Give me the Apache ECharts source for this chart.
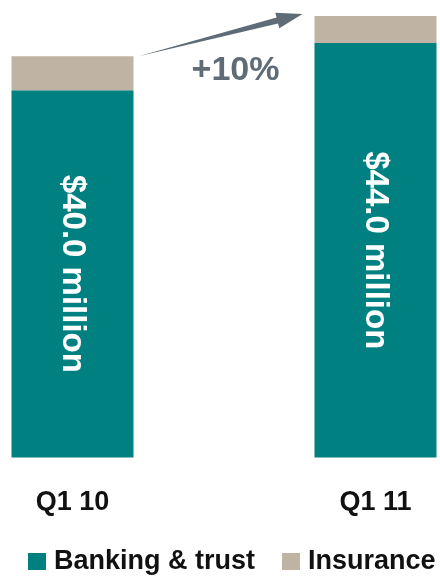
<!DOCTYPE html>
<html>
<head>
<meta charset="utf-8">
<style>
  html, body { margin: 0; padding: 0; background: #ffffff; }
  #chart { width: 440px; height: 577px; }
</style>
<script src="https://cdn.jsdelivr.net/npm/echarts@6/dist/echarts.min.js"></script>
</head>
<body>
<div id="chart"></div>
<script>
// Quarterly revenue, $ million
const quarters = ['Q1 10', 'Q1 11'];
const bankingTrust = [36.6, 41.3];
const insurance = [3.4, 2.7];
const growthLabel = '+10%';

const FONT = '"Liberation Sans", Arial, sans-serif';
const TEAL = '#008080';
const SAND = '#bfb3a3';
const SLATE = '#5f6b77';

const totals = bankingTrust.map((v, i) => v + insurance[i]);

const chart = echarts.init(document.getElementById('chart'), null, { renderer: 'canvas' });

chart.setOption({
  animation: false,
  color: [TEAL, SAND],
  grid: { left: 72.5, right: 64.5, top: 16, bottom: 119.5, containLabel: false },
  xAxis: {
    type: 'category',
    data: quarters,
    boundaryGap: false,
    axisLine: { show: false },
    axisTick: { show: false },
    axisLabel: {
      margin: 32,
      color: '#111111',
      fontFamily: FONT,
      fontWeight: 'bold',
      fontSize: 27
    }
  },
  yAxis: {
    type: 'value',
    min: 0,
    max: 44,
    show: false,
    splitLine: { show: false }
  },
  legend: {
    data: ['Banking & trust', 'Insurance'],
    orient: 'horizontal',
    left: 28,
    top: 548,
    width: 440,
    padding: 0,
    icon: 'rect',
    itemWidth: 18,
    itemHeight: 17,
    itemGap: 27,
    textStyle: {
      color: '#111111',
      fontFamily: FONT,
      fontWeight: 'bold',
      fontSize: 27,
      padding: [0, 0, 0, 3]
    }
  },
  series: [
    {
      name: 'Banking & trust',
      type: 'bar',
      stack: 'rev',
      barWidth: 122,
      clip: false,
      data: bankingTrust,
      label: {
        show: true,
        position: 'inside',
        rotate: -90,
        color: '#ffffff',
        fontFamily: FONT,
        fontWeight: 'bold',
        fontSize: 33,
        formatter: p => '$' + totals[p.dataIndex].toFixed(1) + ' million'
      }
    },
    {
      name: 'Insurance',
      type: 'bar',
      stack: 'rev',
      barWidth: 122,
      clip: false,
      data: insurance
    }
  ]
});

// Growth arrow between the tops of the two stacks, placed from the axes
const p0 = chart.convertToPixel({ gridIndex: 0 }, [0, totals[0]]);
const p1 = chart.convertToPixel({ gridIndex: 0 }, [1, totals[1]]);
const tail = [p0[0] + 61 + 5, p0[1]];
const tip = [p1[0] - 61 - 12, p1[1] - 2];
const dx = tip[0] - tail[0], dy = tip[1] - tail[1];
const len = Math.hypot(dx, dy);
const ux = dx / len, uy = dy / len;
const nx = -uy, ny = ux;
const headLen = 26, headHalf = 8, shaftHalf = 3;
const base = [tip[0] - ux * headLen, tip[1] - uy * headLen];
const arrowPts = [
  tail,
  [base[0] + nx * shaftHalf, base[1] + ny * shaftHalf],
  [base[0] + nx * headHalf, base[1] + ny * headHalf],
  tip,
  [base[0] - nx * headHalf, base[1] - ny * headHalf],
  [base[0] - nx * shaftHalf, base[1] - ny * shaftHalf]
];

chart.setOption({
  graphic: [
    {
      type: 'polygon',
      shape: { points: arrowPts },
      style: { fill: SLATE }
    },
    {
      type: 'text',
      x: (tail[0] + tip[0]) / 2 + 15,
      y: 71,
      style: {
        text: growthLabel,
        fill: SLATE,
        font: 'bold 34px ' + FONT,
        align: 'center',
        verticalAlign: 'middle'
      }
    }
  ]
});
</script>
</body>
</html>
